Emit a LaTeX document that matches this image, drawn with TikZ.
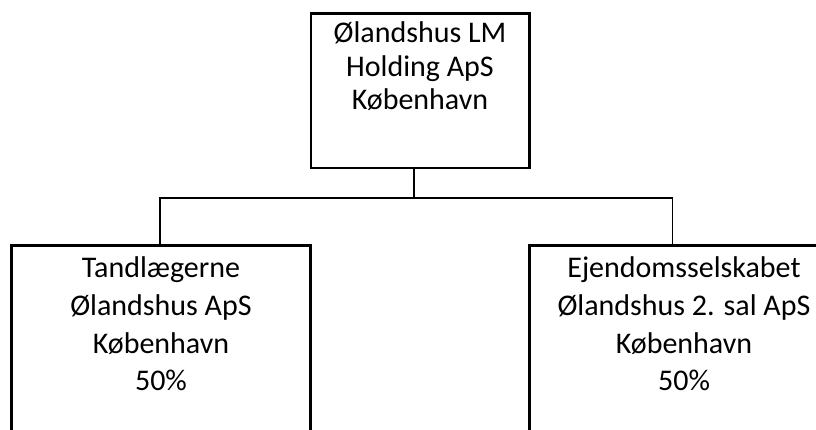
\documentclass[tikz,border=0pt]{standalone}
\usepackage{fontspec}
\setmainfont{Carlito}
\begin{document}
\begin{tikzpicture}[x=1pt,y=-1pt,
  box/.style={draw, line width=2.4pt, inner sep=0pt, outer sep=0pt},
  txt/.style={anchor=base, inner sep=0pt, font=\fontsize{30}{33}\selectfont},
  conn/.style={line width=1.8pt}]
\useasboundingbox (0,0) rectangle (816,430);
% boxes
\node[box, minimum width=218.5pt, minimum height=154.3pt] (top) at (420.25,90.85) {};
\node[box, minimum width=299.2pt, minimum height=234.5pt] (left) at (160.9,362.75) {};
\node[box, minimum width=307pt, minimum height=234.5pt] (right) at (683,362.75) {};
% texts
\node[txt] (t1) at (420,43) {Ølandshus LM};
\node[txt] (t2) at (420,76.5) {Holding ApS};
\node[txt] (t3) at (420,110) {København};
\node[txt] (l1) at (161,277) {Tandlægerne};
\node[txt] (l2) at (161,315) {Ølandshus ApS};
\node[txt] (l3) at (161,353) {København};
\node[txt] (l4) at (161,390) {50\%};
\node[txt] (r1) at (684,277) {Ejendomsselskabet};
\node[txt] (r2) at (684,315) {Ølandshus 2. sal ApS};
\node[txt] (r3) at (684,353) {København};
\node[txt] (r4) at (684,390) {50\%};
% connectors
\coordinate (j) at (414,198);
\coordinate (lj) at (160,198);
\coordinate (rj) at (672.5,198);
\draw[conn] (top.south -| j) -- (j);
\draw[conn] (left.north -| lj) -- (lj) -- (rj) -- (right.north -| rj);
\end{tikzpicture}
\end{document}
